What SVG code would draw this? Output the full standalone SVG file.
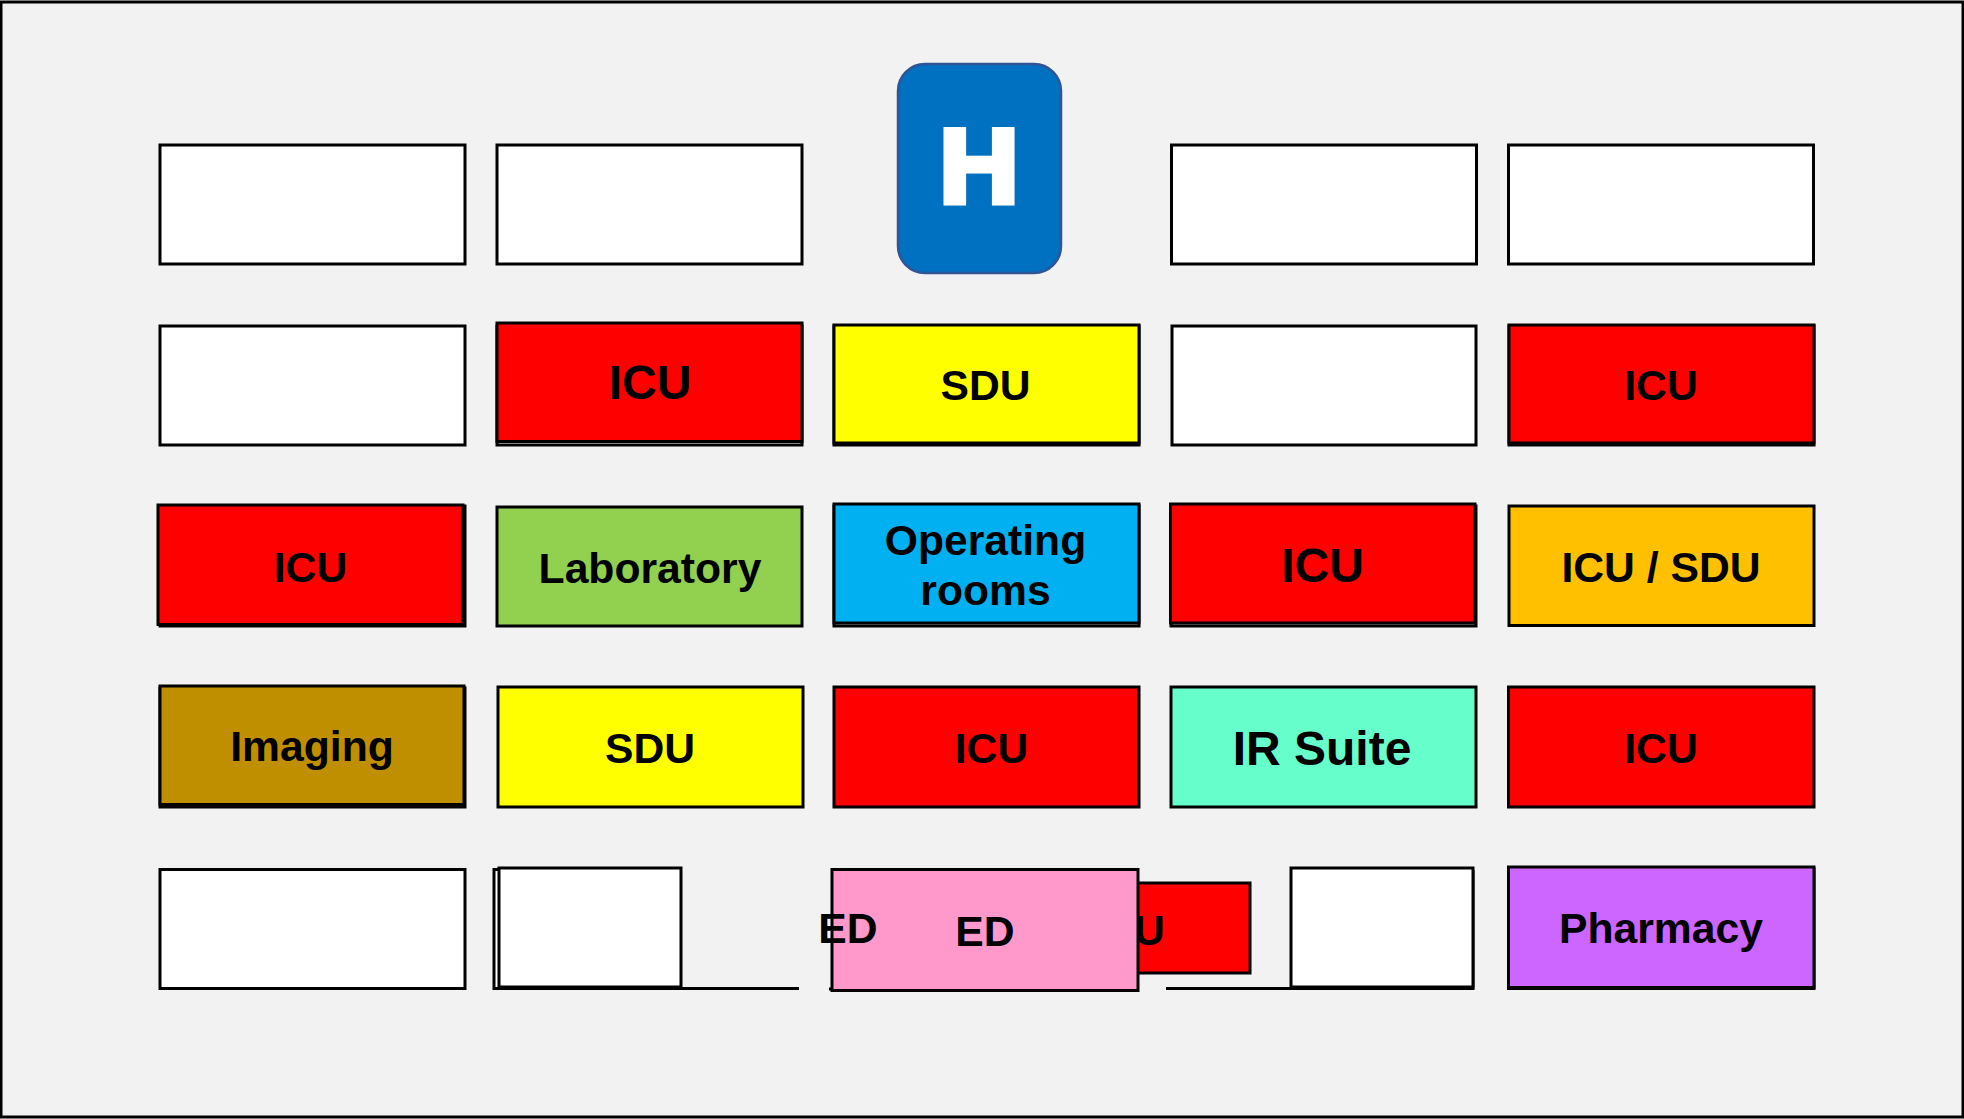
<svg xmlns="http://www.w3.org/2000/svg" width="1964" height="1119" viewBox="0 0 1964 1119">
<style>
rect,path{stroke:#000;stroke-width:3}
.w{fill:#fff}.r{fill:#f00}.y{fill:#ff0}
path{fill:none}
text{font-family:"Liberation Sans",Arial,sans-serif;font-weight:700;font-size:42.67px;fill:#000;text-anchor:middle}
.b{font-size:48px}
</style>
<rect id="frame" x="1" y="2" width="1962" height="1115" fill="#f2f2f2"/>
<g id="hospital"><rect x="898" y="64" width="163" height="209" rx="27" fill="#0070c0" style="stroke:#2f5597;stroke-width:2.500"/><text x="979" y="204" style="font-family:'DejaVu Sans',sans-serif;font-size:104px;fill:#fff;stroke:#fff;stroke-width:3">H</text></g>
<g id="n-1-1"><rect class="w" x="160" y="145" width="305" height="119"/></g>
<g id="n-1-2"><rect class="w" x="497" y="145" width="305" height="119"/></g>
<g id="n-1-4"><rect class="w" x="1171.500" y="145" width="305" height="119"/></g>
<g id="n-1-5"><rect class="w" x="1508.500" y="145" width="305" height="119"/></g>
<g id="n-2-1"><rect class="w" x="160" y="326" width="305" height="119"/></g>
<g id="n-2-2"><rect class="w" x="497" y="326" width="305" height="119"/><rect class="r" x="497" y="323" width="305" height="118.500"/><text class="b" x="650" y="399">ICU</text></g>
<g id="n-2-3"><rect class="w" x="834" y="326" width="305" height="119"/><rect class="y" x="834" y="325" width="305" height="118"/><text x="985.500" y="400">SDU</text></g>
<g id="n-2-4"><rect class="w" x="1172" y="326" width="304" height="119"/></g>
<g id="n-2-5"><rect class="w" x="1509" y="326" width="305" height="119"/><rect class="r" x="1509" y="325" width="305" height="118"/><text x="1661" y="400">ICU</text></g>
<g id="n-3-1"><rect class="w" x="160" y="506" width="305" height="120"/><rect class="r" x="158" y="505" width="305" height="119.500"/><text x="310.500" y="581.500">ICU</text></g>
<g id="n-3-2"><rect x="497" y="507" width="305" height="119" fill="#92d050"/><text x="650" y="582.500">Laboratory</text></g>
<g id="n-3-3"><rect class="w" x="834" y="506" width="305" height="120"/><rect x="834" y="504" width="305" height="119" fill="#00b0f0"/><text x="985.500" y="555">Operating</text><text x="985.500" y="605">rooms</text></g>
<g id="n-3-4"><rect class="w" x="1171" y="506" width="305" height="120"/><rect class="r" x="1170.500" y="504" width="304.500" height="119"/><text class="b" x="1322.500" y="582">ICU</text></g>
<g id="n-3-5"><rect x="1509" y="506" width="305" height="119.500" fill="#ffc000"/><text x="1661" y="581.500">ICU / SDU</text></g>
<g id="n-4-1"><rect class="w" x="160" y="688" width="305" height="119"/><rect x="160" y="686" width="304" height="118.500" fill="#bf8f00"/><text x="312" y="760.500">Imaging</text></g>
<g id="n-4-2"><rect class="y" x="498" y="687" width="305" height="120"/><text x="650" y="762.500">SDU</text></g>
<g id="n-4-3"><rect class="r" x="834" y="687" width="305" height="120"/><text x="991.500" y="762.500">ICU</text></g>
<g id="n-4-4"><rect x="1171" y="687" width="305" height="120" fill="#66ffcc"/><text class="b" x="1322" y="765">IR Suite</text></g>
<g id="n-4-5"><rect class="r" x="1508.500" y="687" width="305.500" height="120"/><text x="1661" y="762.500">ICU</text></g>
<g id="n-5-1"><rect class="w" x="160" y="869.500" width="305" height="119"/></g>
<g id="n-5-2"><rect x="494" y="869" width="8" height="120" fill="#fff" style="stroke:none"/><path d="M799 988.500H494V869.500H502"/><rect class="w" x="499" y="868" width="182" height="119"/></g>
<g id="n-5-3b"><rect class="r" x="1010" y="883" width="240" height="90"/><text x="1128" y="945">ICU</text></g>
<g id="n-5-3"><path d="M829 989H834"/><rect x="832" y="869.500" width="306" height="121" fill="#ff99cc"/><text x="985" y="946">ED</text><text x="848" y="942.500">ED</text></g>
<g id="n-5-4"><path d="M1166 988.500H1473V870"/><rect class="w" x="1291" y="868" width="182" height="119"/></g>
<g id="n-5-5"><rect class="w" x="1508.500" y="869" width="305.500" height="119.500"/><rect x="1508.500" y="867" width="305.500" height="120.500" fill="#cc66ff"/><text x="1661" y="942.500">Pharmacy</text></g>
<g id="connectors"/>
</svg>
